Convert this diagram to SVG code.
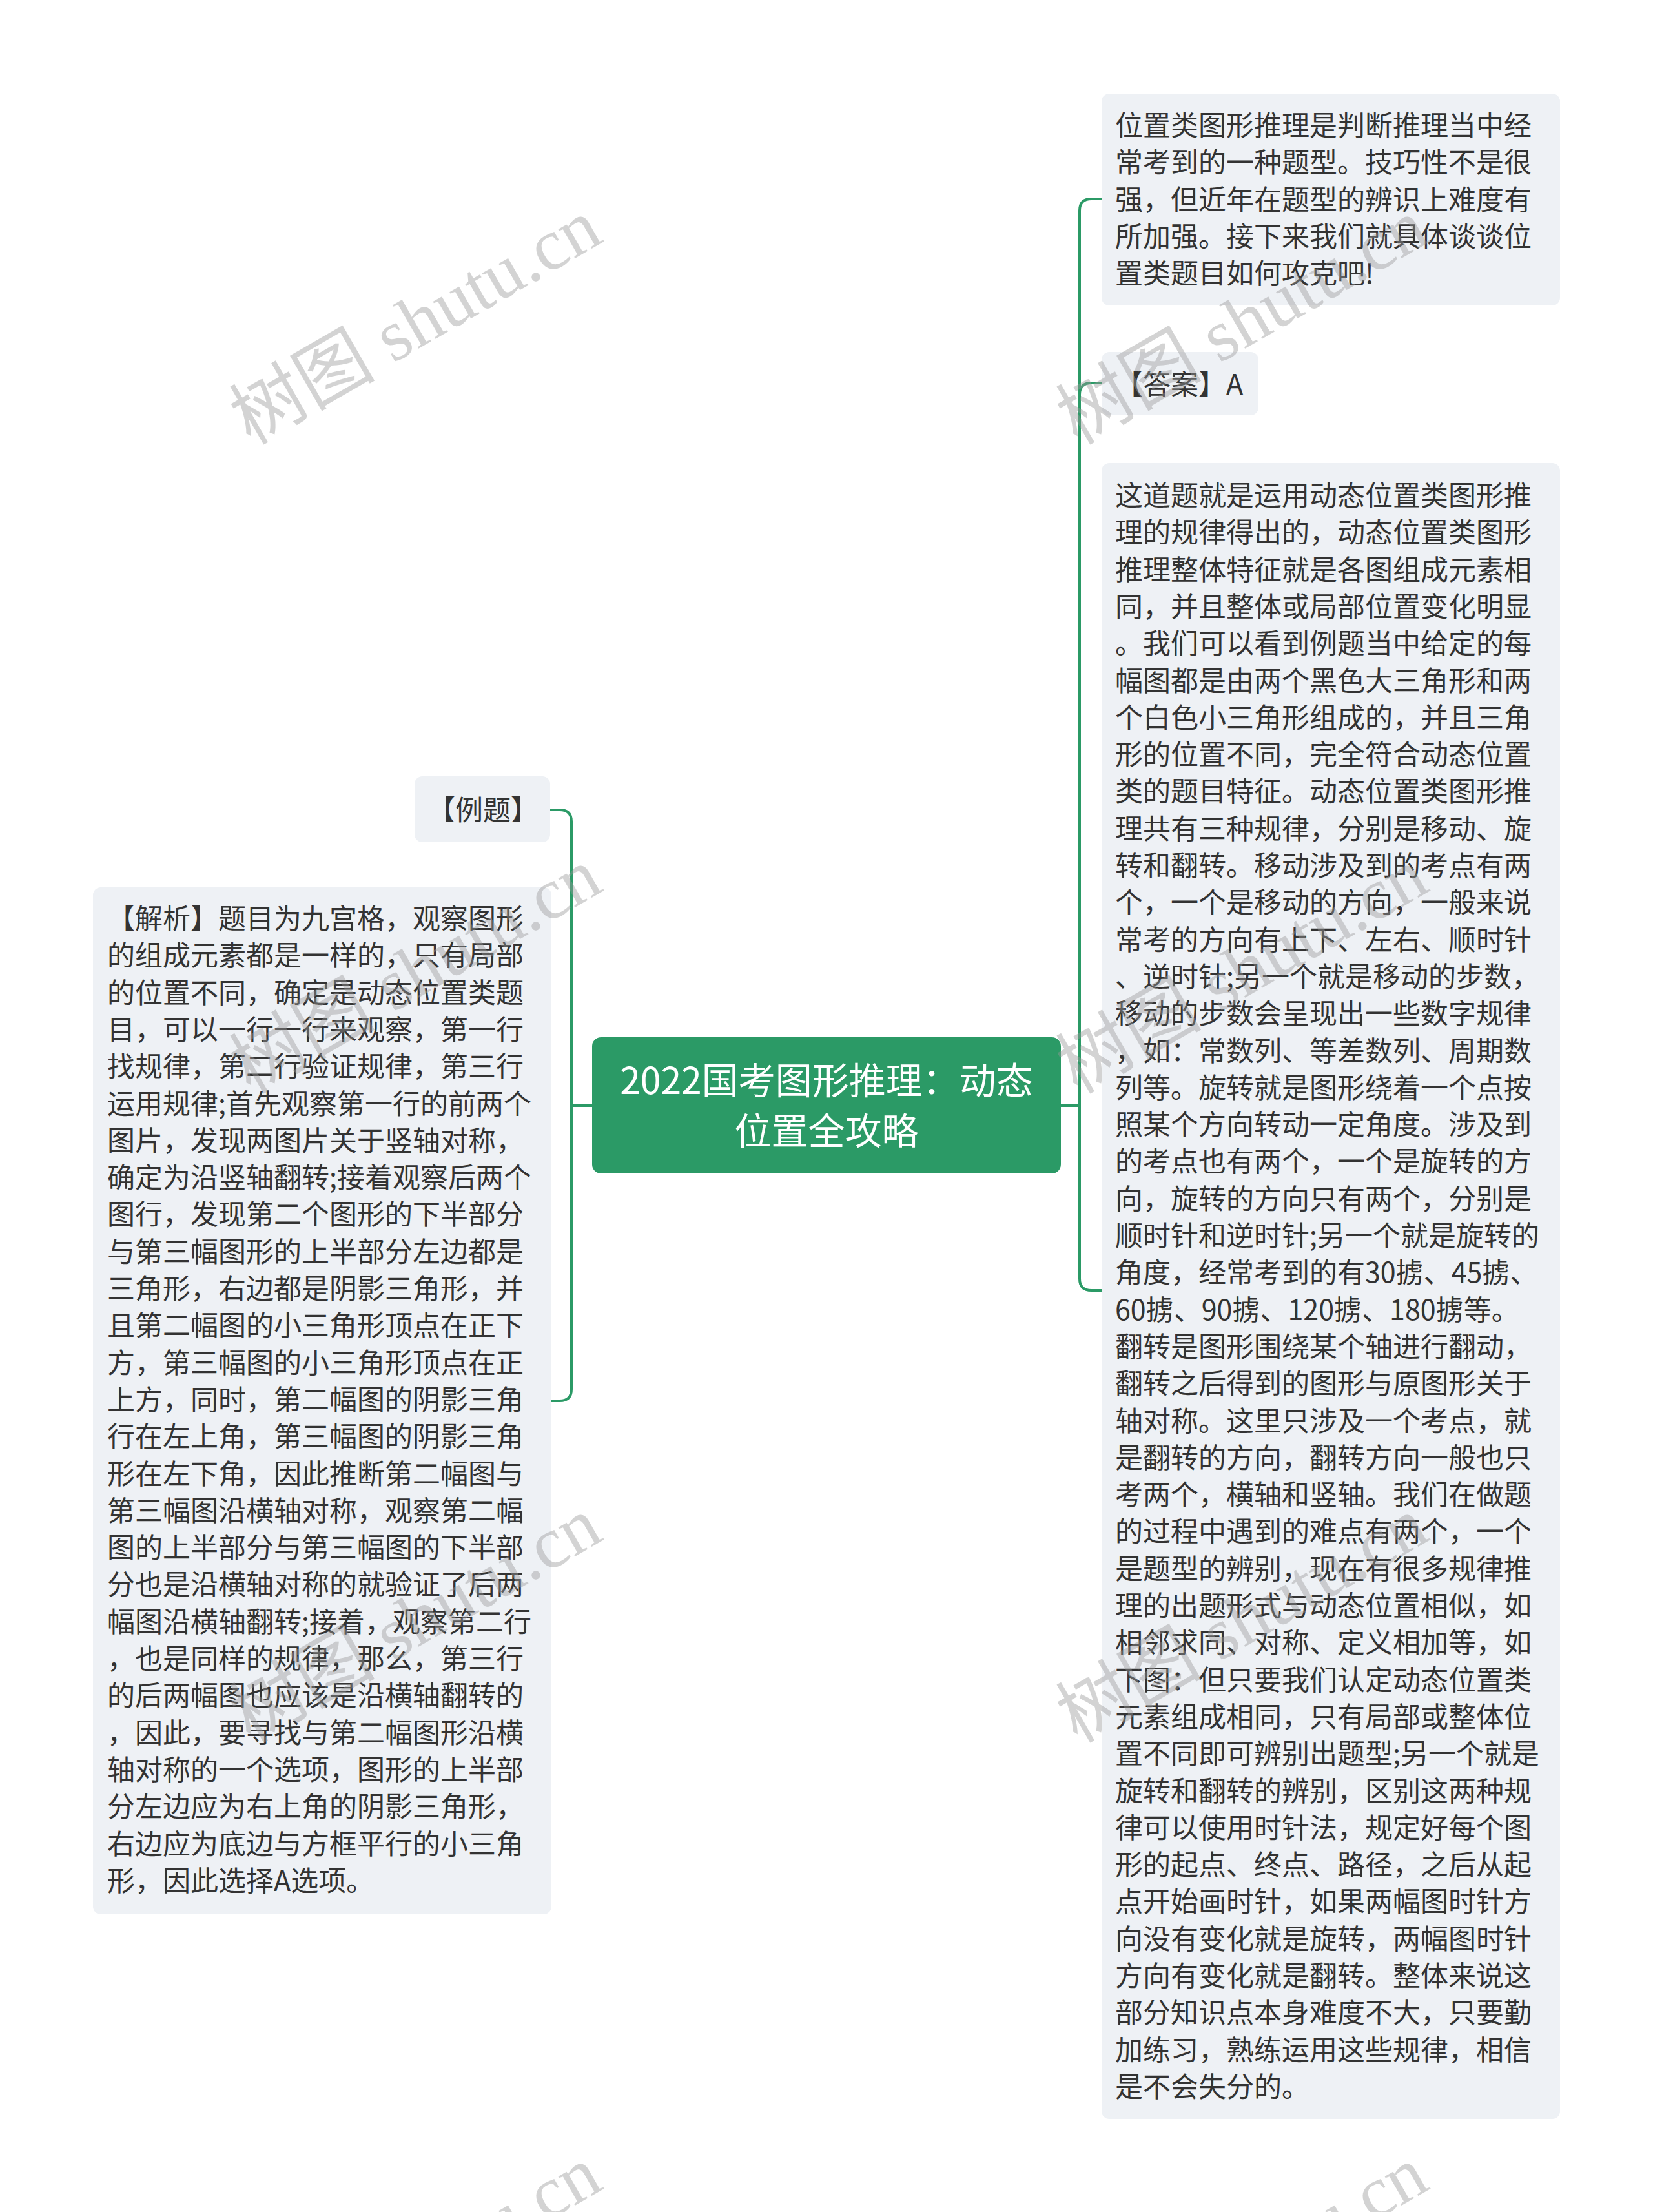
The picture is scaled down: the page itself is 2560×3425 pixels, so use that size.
<svg xmlns="http://www.w3.org/2000/svg" width="2560" height="3425" viewBox="0 0 2560 3425">
<style>
.bg{fill:#ffffff}
.node{fill:#eef1f5}
.root{fill:#2b9a66}
.t{font-family:"Noto Sans CJK SC","Noto Sans",sans-serif;font-size:43px;fill:#333333}
.rt{font-family:"Noto Sans CJK SC","Noto Sans",sans-serif;font-size:57px;fill:#ffffff;text-anchor:middle}
.link{fill:none;stroke:#2b9a66;stroke-width:4;stroke-linecap:round}
.wm{font-family:"Liberation Serif","Noto Sans CJK SC",serif;font-size:113px;fill:#999999;opacity:0.42}
</style>
<rect class="bg" x="0" y="0" width="2560" height="3425"/>
<g id="connectors">
<path class="link" d="M1643 1712 H1672 V326 Q1672 308 1690 308 H1706"/>
<path class="link" d="M1643 1712 H1672 V611 Q1672 593 1690 593 H1706"/>
<path class="link" d="M1643 1712 H1672 V1980 Q1672 1998 1690 1998 H1706"/>
<path class="link" d="M917 1712 H885 V1272 Q885 1254 867 1254 H852"/>
<path class="link" d="M917 1712 H885 V2151 Q885 2169 867 2169 H854"/>
</g>
<g id="node-root">
<rect class="root" x="917" y="1606" width="726" height="211" rx="14"/>
<text class="rt" x="1280" y="1694">2022国考图形推理：动态</text>
<text class="rt" x="1280" y="1772">位置全攻略</text>
</g>
<g id="node-intro">
<rect class="node" x="1706" y="145" width="710" height="328" rx="12"/>
<text class="t" x="1727"><tspan x="1727" y="210">位置类图形推理是判断推理当中经</tspan><tspan x="1727" y="267.3">常考到的一种题型。技巧性不是很</tspan><tspan x="1727" y="324.6">强，但近年在题型的辨识上难度有</tspan><tspan x="1727" y="381.9">所加强。接下来我们就具体谈谈位</tspan><tspan x="1727" y="439.2">置类题目如何攻克吧!</tspan></text>
</g>
<g id="node-answer">
<rect class="node" x="1706" y="545" width="243" height="98" rx="12"/>
<text class="t" x="1727" y="611">【答案】A</text>
</g>
<g id="node-analysis">
<rect class="node" x="1706" y="717" width="710" height="2564" rx="12"/>
<text class="t" x="1727"><tspan x="1727" y="783">这道题就是运用动态位置类图形推</tspan><tspan x="1727" y="840.3">理的规律得出的，动态位置类图形</tspan><tspan x="1727" y="897.6">推理整体特征就是各图组成元素相</tspan><tspan x="1727" y="954.9">同，并且整体或局部位置变化明显</tspan><tspan x="1727" y="1012.2">。我们可以看到例题当中给定的每</tspan><tspan x="1727" y="1069.5">幅图都是由两个黑色大三角形和两</tspan><tspan x="1727" y="1126.8">个白色小三角形组成的，并且三角</tspan><tspan x="1727" y="1184.1">形的位置不同，完全符合动态位置</tspan><tspan x="1727" y="1241.4">类的题目特征。动态位置类图形推</tspan><tspan x="1727" y="1298.7">理共有三种规律，分别是移动、旋</tspan><tspan x="1727" y="1356">转和翻转。移动涉及到的考点有两</tspan><tspan x="1727" y="1413.3">个，一个是移动的方向，一般来说</tspan><tspan x="1727" y="1470.6">常考的方向有上下、左右、顺时针</tspan><tspan x="1727" y="1527.9">、逆时针;另一个就是移动的步数，</tspan><tspan x="1727" y="1585.2">移动的步数会呈现出一些数字规律</tspan><tspan x="1727" y="1642.5">，如：常数列、等差数列、周期数</tspan><tspan x="1727" y="1699.8">列等。旋转就是图形绕着一个点按</tspan><tspan x="1727" y="1757.1">照某个方向转动一定角度。涉及到</tspan><tspan x="1727" y="1814.4">的考点也有两个，一个是旋转的方</tspan><tspan x="1727" y="1871.7">向，旋转的方向只有两个，分别是</tspan><tspan x="1727" y="1929">顺时针和逆时针;另一个就是旋转的</tspan><tspan x="1727" y="1986.3">角度，经常考到的有30掳、45掳、</tspan><tspan x="1727" y="2043.6">60掳、90掳、120掳、180掳等。</tspan><tspan x="1727" y="2100.9">翻转是图形围绕某个轴进行翻动，</tspan><tspan x="1727" y="2158.2">翻转之后得到的图形与原图形关于</tspan><tspan x="1727" y="2215.5">轴对称。这里只涉及一个考点，就</tspan><tspan x="1727" y="2272.8">是翻转的方向，翻转方向一般也只</tspan><tspan x="1727" y="2330.1">考两个，横轴和竖轴。我们在做题</tspan><tspan x="1727" y="2387.4">的过程中遇到的难点有两个，一个</tspan><tspan x="1727" y="2444.7">是题型的辨别，现在有很多规律推</tspan><tspan x="1727" y="2502">理的出题形式与动态位置相似，如</tspan><tspan x="1727" y="2559.3">相邻求同、对称、定义相加等，如</tspan><tspan x="1727" y="2616.6">下图：但只要我们认定动态位置类</tspan><tspan x="1727" y="2673.9">元素组成相同，只有局部或整体位</tspan><tspan x="1727" y="2731.2">置不同即可辨别出题型;另一个就是</tspan><tspan x="1727" y="2788.5">旋转和翻转的辨别，区别这两种规</tspan><tspan x="1727" y="2845.8">律可以使用时针法，规定好每个图</tspan><tspan x="1727" y="2903.1">形的起点、终点、路径，之后从起</tspan><tspan x="1727" y="2960.4">点开始画时针，如果两幅图时针方</tspan><tspan x="1727" y="3017.7">向没有变化就是旋转，两幅图时针</tspan><tspan x="1727" y="3075">方向有变化就是翻转。整体来说这</tspan><tspan x="1727" y="3132.3">部分知识点本身难度不大，只要勤</tspan><tspan x="1727" y="3189.6">加练习，熟练运用这些规律，相信</tspan><tspan x="1727" y="3246.9">是不会失分的。</tspan></text>
</g>
<g id="node-example">
<rect class="node" x="642" y="1202" width="210" height="102" rx="12"/>
<text class="t" x="662" y="1270">【例题】</text>
</g>
<g id="node-explain">
<rect class="node" x="144" y="1374" width="710" height="1590" rx="12"/>
<text class="t" x="166"><tspan x="166" y="1438">【解析】题目为九宫格，观察图形</tspan><tspan x="166" y="1495.3">的组成元素都是一样的，只有局部</tspan><tspan x="166" y="1552.6">的位置不同，确定是动态位置类题</tspan><tspan x="166" y="1609.9">目，可以一行一行来观察，第一行</tspan><tspan x="166" y="1667.2">找规律，第二行验证规律，第三行</tspan><tspan x="166" y="1724.5">运用规律;首先观察第一行的前两个</tspan><tspan x="166" y="1781.8">图片，发现两图片关于竖轴对称，</tspan><tspan x="166" y="1839.1">确定为沿竖轴翻转;接着观察后两个</tspan><tspan x="166" y="1896.4">图行，发现第二个图形的下半部分</tspan><tspan x="166" y="1953.7">与第三幅图形的上半部分左边都是</tspan><tspan x="166" y="2011">三角形，右边都是阴影三角形，并</tspan><tspan x="166" y="2068.3">且第二幅图的小三角形顶点在正下</tspan><tspan x="166" y="2125.6">方，第三幅图的小三角形顶点在正</tspan><tspan x="166" y="2182.9">上方，同时，第二幅图的阴影三角</tspan><tspan x="166" y="2240.2">行在左上角，第三幅图的阴影三角</tspan><tspan x="166" y="2297.5">形在左下角，因此推断第二幅图与</tspan><tspan x="166" y="2354.8">第三幅图沿横轴对称，观察第二幅</tspan><tspan x="166" y="2412.1">图的上半部分与第三幅图的下半部</tspan><tspan x="166" y="2469.4">分也是沿横轴对称的就验证了后两</tspan><tspan x="166" y="2526.7">幅图沿横轴翻转;接着，观察第二行</tspan><tspan x="166" y="2584">，也是同样的规律，那么，第三行</tspan><tspan x="166" y="2641.3">的后两幅图也应该是沿横轴翻转的</tspan><tspan x="166" y="2698.6">，因此，要寻找与第二幅图形沿横</tspan><tspan x="166" y="2755.9">轴对称的一个选项，图形的上半部</tspan><tspan x="166" y="2813.2">分左边应为右上角的阴影三角形，</tspan><tspan x="166" y="2870.5">右边应为底边与方框平行的小三角</tspan><tspan x="166" y="2927.8">形，因此选择A选项。</tspan></text>
</g>
<g id="watermarks">
<text class="wm" transform="translate(388 690) rotate(-30)">树图 shutu.cn</text>
<text class="wm" transform="translate(1668 690) rotate(-30)">树图 shutu.cn</text>
<text class="wm" transform="translate(388 1695) rotate(-30)">树图 shutu.cn</text>
<text class="wm" transform="translate(1668 1695) rotate(-30)">树图 shutu.cn</text>
<text class="wm" transform="translate(388 2700) rotate(-30)">树图 shutu.cn</text>
<text class="wm" transform="translate(1668 2700) rotate(-30)">树图 shutu.cn</text>
<text class="wm" transform="translate(388 3705) rotate(-30)">树图 shutu.cn</text>
<text class="wm" transform="translate(1668 3705) rotate(-30)">树图 shutu.cn</text>
</g>
</svg>
